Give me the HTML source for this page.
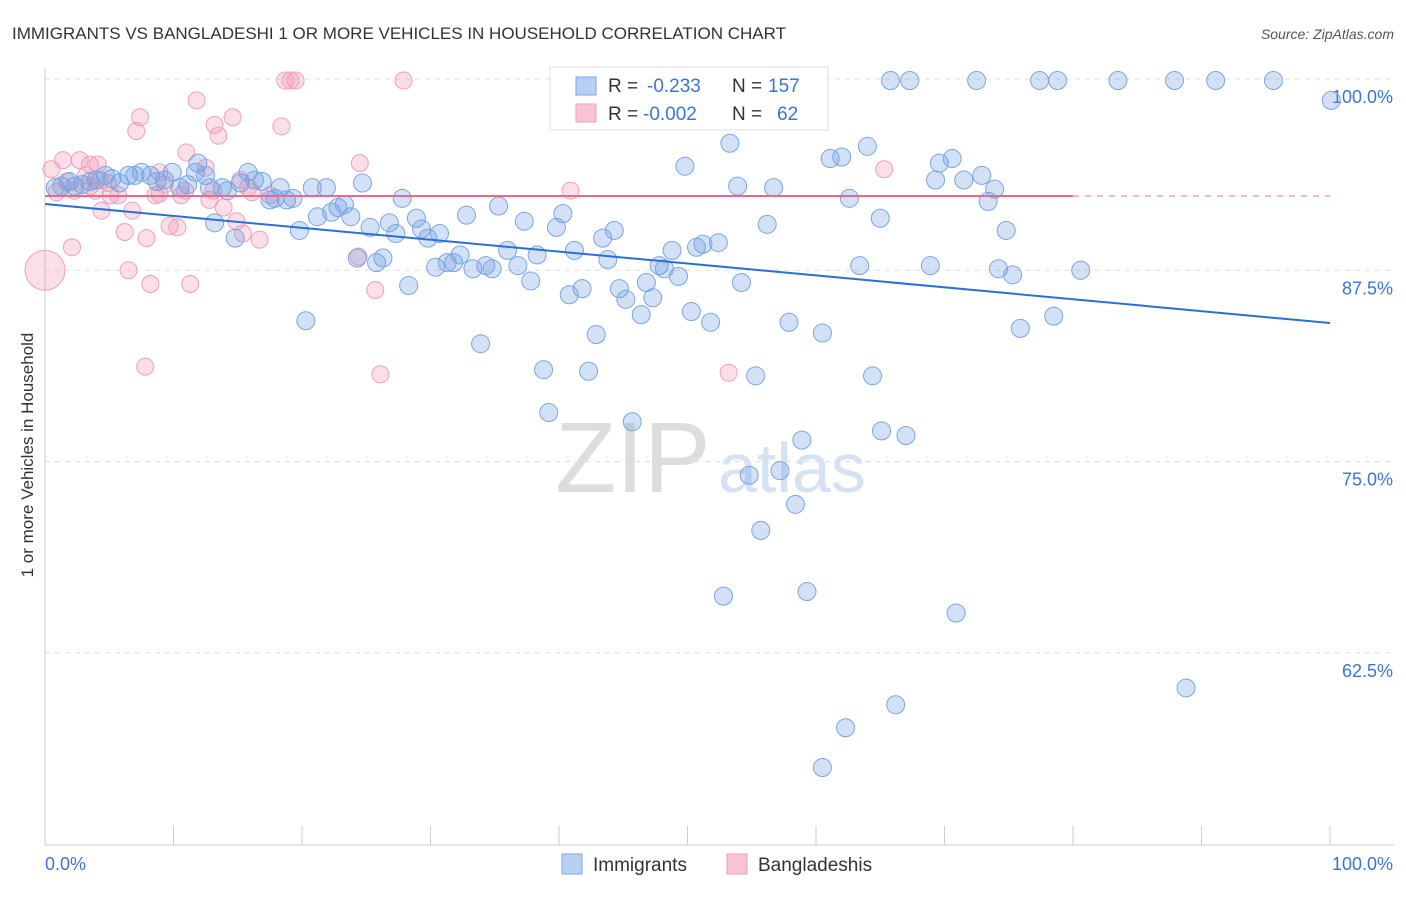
<!DOCTYPE html>
<html><head><meta charset="utf-8"><style>
body{margin:0;background:#fff;font-family:"Liberation Sans",sans-serif;}
svg text{font-family:"Liberation Sans",sans-serif;}
</style></head><body>
<svg id="chart" width="1406" height="892">
<text x="12" y="39" font-size="17" fill="#333">IMMIGRANTS VS BANGLADESHI 1 OR MORE VEHICLES IN HOUSEHOLD CORRELATION CHART</text>
<text x="1394" y="39" font-size="14" fill="#555" font-style="italic" text-anchor="end">Source: ZipAtlas.com</text>
<text x="33" y="455" font-size="17" fill="#333" text-anchor="middle" transform="rotate(-90 33 455)">1 or more Vehicles in Household</text>
<text x="555" y="492" font-size="100" fill="#ddd" font-family="Liberation Serif">ZIP</text>
<text x="718" y="492" font-size="70" fill="#d4e2f4">atlas</text>
<g id="grid"></g><g id="axes"></g><g id="pts"></g><g id="trend"></g>
<g>
<rect x="550" y="67" width="278" height="63" fill="#fff" stroke="#ddd"/>
<rect x="576" y="77" width="20" height="18" fill="#b8d0f4" stroke="#7aa6e0"/>
<text x="608" y="92" font-size="19" fill="#333">R = </text><text x="647" y="92" font-size="19" fill="#3a74d6">-0.233</text>
<text x="732" y="92" font-size="19" fill="#333">N = </text><text x="768" y="92" font-size="19" fill="#3a74d6">157</text>
<rect x="576" y="104" width="20" height="18" fill="#f8c4d4" stroke="#f0a0b8"/>
<text x="608" y="120" font-size="19" fill="#333">R = </text><text x="643" y="120" font-size="19" fill="#3a74d6">-0.002</text>
<text x="732" y="120" font-size="19" fill="#333">N = </text><text x="777" y="120" font-size="19" fill="#3a74d6">62</text>
</g>
<g>
<rect x="562" y="854" width="20" height="20" fill="#b8d0f4" stroke="#7aa6e0"/>
<text x="593" y="871" font-size="19" fill="#333">Immigrants</text>
<rect x="727" y="854" width="20" height="20" fill="#f8c4d4" stroke="#f0a0b8"/>
<text x="758" y="871" font-size="19" fill="#333">Bangladeshis</text>
</g>
</svg>
<script>
const blueX=[0.8,1.3,1.9,2.3,2.9,3.5,4.0,4.7,5.2,5.8,6.5,7.0,7.5,8.2,8.7,9.3,9.9,10.5,11.1,11.7,11.9,12.5,12.8,13.2,13.8,14.2,14.8,15.2,15.8,16.3,16.9,17.5,17.9,18.3,18.8,19.3,19.8,20.3,20.8,21.2,21.9,22.3,22.8,23.3,23.8,24.3,24.7,25.3,25.8,26.3,26.8,27.3,27.8,28.3,28.9,29.3,29.8,30.4,30.7,31.3,31.8,32.3,32.8,33.3,33.9,34.3,34.8,35.3,36.0,36.8,37.3,37.8,38.3,38.8,39.2,39.8,40.3,40.8,41.2,41.8,42.3,42.9,43.4,43.8,44.3,44.7,45.2,45.7,46.4,46.8,47.3,47.8,48.2,48.8,49.3,49.8,50.3,50.7,51.2,51.8,52.4,52.8,53.3,53.9,54.2,54.8,55.3,55.7,56.2,56.7,57.2,57.9,58.4,58.9,59.3,60.5,60.5,61.1,62.0,62.3,62.6,63.4,64.0,64.4,65.0,65.1,65.8,66.2,67.0,67.3,68.9,69.3,69.6,70.6,70.9,71.5,72.5,72.9,73.4,73.9,74.2,74.8,75.3,75.9,77.4,78.5,78.8,80.6,83.5,87.9,88.8,91.1,95.6,100.1];
const blueY=[92.9,93.0,93.3,93.0,93.1,93.3,93.4,93.7,93.5,93.2,93.7,93.7,93.9,93.7,93.3,93.4,93.9,92.9,93.1,93.9,94.5,93.7,92.9,90.6,92.9,92.7,89.6,93.2,93.9,93.4,93.3,92.1,92.2,92.9,92.1,92.2,90.1,84.2,92.9,91.0,92.9,91.3,91.6,91.8,91.0,88.3,93.2,90.3,88.0,88.3,90.6,89.9,92.2,86.5,90.9,90.2,89.6,87.7,89.9,88.0,88.0,88.5,91.1,87.6,82.7,87.8,87.6,91.7,88.8,87.8,90.7,86.8,88.5,81.0,78.2,90.3,91.2,85.9,88.8,86.3,80.9,83.3,89.6,88.2,90.1,86.3,85.6,77.6,84.6,86.7,85.7,87.8,87.6,88.8,87.1,94.3,84.8,89.0,89.2,84.1,89.3,66.2,95.8,93.0,86.7,74.1,80.6,70.5,90.5,92.9,74.4,84.1,72.2,76.4,66.5,55.0,83.4,94.8,94.9,57.6,92.2,87.8,95.6,80.6,90.9,77.0,99.9,59.1,76.7,99.9,87.8,93.4,94.5,94.8,65.1,93.4,99.9,93.7,92.0,92.8,87.6,90.1,87.2,83.7,99.9,84.5,99.9,87.5,99.9,99.9,60.2,99.9,99.9,98.6];
const pinkX=[0.5,0.9,1.4,1.7,2.1,2.3,2.7,3.2,3.5,3.9,4.1,4.4,4.9,5.1,5.7,6.2,6.5,6.8,7.1,7.4,7.8,7.9,8.2,8.6,8.9,9.3,9.7,10.3,10.6,11.0,11.3,11.8,12.5,12.8,13.1,13.2,13.5,13.9,14.6,14.9,15.2,15.4,15.8,16.1,16.7,17.5,18.4,18.7,19.1,19.5,24.4,24.5,25.7,26.1,27.9,40.9,53.2,65.3,3.5,4.3,8.9,10.9];
const pinkY=[94.1,92.6,94.7,93.3,89.0,92.7,94.7,93.7,93.0,92.7,94.4,91.4,93.2,92.4,92.4,90.0,87.5,91.4,96.6,97.5,81.2,89.6,86.6,92.4,92.5,93.1,90.4,90.3,92.4,95.2,86.6,98.6,94.2,92.1,92.7,97.0,96.3,91.6,97.5,90.7,93.4,89.9,92.9,92.6,89.5,92.4,96.9,99.9,99.9,99.9,88.4,94.5,86.2,80.7,99.9,92.7,80.8,94.1,94.4,93.4,93.9,92.7];
const bigPinkX=[0], bigPinkY=[87.5];
const yTicks=[100,87.5,75,62.5];
const yTickLabels=["100.0%","87.5%","75.0%","62.5%"];
const blueTrend=[91.83,84.05]; const pinkTrend=[92.35,92.35];
const NS="http://www.w3.org/2000/svg";
const sx=v=>45+v*12.85, sy=v=>79+(100-v)*15.3;
function mk(t,a,p){const e=document.createElementNS(NS,t);for(const k in a)e.setAttribute(k,a[k]);p.appendChild(e);return e;}
const grid=document.getElementById('grid'),axes=document.getElementById('axes'),pts=document.getElementById('pts'),tr=document.getElementById('trend');
yTicks.forEach((v,i)=>{
 const l=mk('line',{x1:45,x2:1394,y1:sy(v),y2:sy(v),stroke:'#ddd','stroke-dasharray':'5,5'},grid);
 
 
 const t=mk('text',{x:1393,y:sy(v)+24,'font-size':18,fill:'#3a74d6','text-anchor':'end'},axes);
 t.textContent=yTickLabels[i];
 
 
});
const ax=mk('line',{x1:45,x2:45,y1:68,y2:845,stroke:'#ccc'},axes);


const bx=mk('line',{x1:45,x2:1394,y1:845,y2:845,stroke:'#ccc'},axes);


for(let i=0;i<=10;i++){
 const t=mk('line',{x1:sx(i*10),x2:sx(i*10),y1:826,y2:845,stroke:'#ccc'},axes);
 
 
}
const xl=mk('text',{x:45,y:870,'font-size':18,fill:'#3a74d6'},axes);xl.textContent='0.0%';


const xr=mk('text',{x:1393,y:870,'font-size':18,fill:'#3a74d6','text-anchor':'end'},axes);xr.textContent='100.0%';


pinkX.forEach((x,i)=>{
 const c=mk('circle',{cx:sx(x),cy:sy(pinkY[i]),r:8.5,fill:'rgba(242,150,180,0.3)',stroke:'#f0a0b8','stroke-width':1},pts);
 
 
});
bigPinkX.forEach((x,i)=>{
 const c=mk('circle',{cx:sx(x),cy:sy(bigPinkY[i]),r:20,fill:'rgba(242,150,180,0.3)',stroke:'#f0a0b8'},pts);
 
 
});
blueX.forEach((x,i)=>{
 const c=mk('circle',{cx:sx(x),cy:sy(blueY[i]),r:9,fill:'rgba(110,155,225,0.3)',stroke:'#7aa6e0','stroke-width':1},pts);
 
 
});
const bt=mk('line',{x1:sx(0),y1:sy(blueTrend[0]),x2:sx(100),y2:sy(blueTrend[1]),stroke:'#2a6fd8','stroke-width':2},tr);


const pt=mk('line',{x1:sx(0),y1:sy(pinkTrend[0]),x2:sx(80),y2:sy(pinkTrend[1]),stroke:'#e8688e','stroke-width':2},tr);


const pd=mk('line',{x1:sx(80),y1:sy(pinkTrend[1]),x2:sx(100),y2:sy(pinkTrend[1]),stroke:'#f0a0b8','stroke-width':1.5,'stroke-dasharray':'6,6'},tr);


</script>
</body></html>
